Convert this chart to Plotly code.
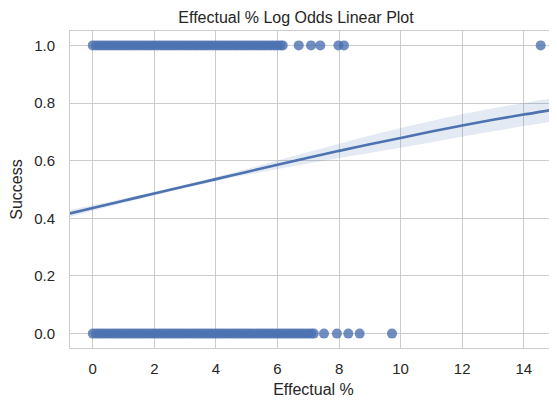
import plotly.graph_objects as go

# ---- data ----
# Success = 1 row: dense cluster then isolated points
success_x = [0.0, 0.1, 0.2, 0.3, 0.4, 0.5, 0.6, 0.7, 0.8, 0.9, 1.0, 1.1, 1.2, 1.3, 1.4, 1.5,
             1.6, 1.7, 1.8, 1.9, 2.0, 2.1, 2.2, 2.3, 2.4, 2.5, 2.6, 2.7, 2.8, 2.9, 3.0, 3.1,
             3.2, 3.3, 3.4, 3.5, 3.6, 3.7, 3.8, 3.9, 4.0, 4.1, 4.2, 4.3, 4.4, 4.5, 4.6, 4.7,
             4.8, 4.9, 5.0, 5.1, 5.2, 5.3, 5.4, 5.5, 5.6, 5.7, 5.8, 5.9, 6.0, 6.1, 6.17,
             6.69, 7.09, 7.39, 7.98, 8.16, 14.55]
success_y = [1.0] * len(success_x)

# Success = 0 row
fail_x = [0.0, 0.1, 0.2, 0.3, 0.4, 0.5, 0.6, 0.7, 0.8, 0.9, 1.0, 1.1, 1.2, 1.3, 1.4, 1.5,
          1.6, 1.7, 1.8, 1.9, 2.0, 2.1, 2.2, 2.3, 2.4, 2.5, 2.6, 2.7, 2.8, 2.9, 3.0, 3.1,
          3.2, 3.3, 3.4, 3.5, 3.6, 3.7, 3.8, 3.9, 4.0, 4.1, 4.2, 4.3, 4.4, 4.5, 4.6, 4.7,
          4.8, 4.9, 5.0, 5.1, 5.2, 5.3, 5.4, 5.5, 5.6, 5.7, 5.8, 5.9, 6.0, 6.1, 6.2, 6.3,
          6.4, 6.5, 6.6, 6.7, 6.8, 6.9, 7.0, 7.1, 7.18,
          7.51, 7.93, 8.3, 8.67, 9.72]
fail_y = [0.0] * len(fail_x)

# fitted logistic curve and its confidence band
curve_x = [-0.74, 0, 1, 2, 3, 4, 5, 6, 7, 8, 9, 10, 11, 12, 13, 14, 15, 15.08]
curve_y = [0.417, 0.436, 0.461, 0.486, 0.511, 0.536, 0.561, 0.586, 0.610, 0.634,
           0.657, 0.679, 0.701, 0.722, 0.742, 0.760, 0.778, 0.780]
band_lo = [0.405, 0.426, 0.453, 0.480, 0.505, 0.529, 0.551, 0.571, 0.590, 0.609,
           0.627, 0.645, 0.664, 0.683, 0.702, 0.720, 0.738, 0.740]
band_hi = [0.429, 0.446, 0.469, 0.492, 0.517, 0.543, 0.571, 0.601, 0.630, 0.659,
           0.687, 0.713, 0.738, 0.761, 0.782, 0.800, 0.818, 0.820]

x_ticks = [0, 2, 4, 6, 8, 10, 12, 14]
y_ticks = [0.0, 0.2, 0.4, 0.6, 0.8, 1.0]
y_tick_text = ["0.0", "0.2", "0.4", "0.6", "0.8", "1.0"]

BLUE = "#4C72B0"
TXT = "#262626"
GRID = "#cccccc"
FONT = "Liberation Sans, Arial, sans-serif"

# the page body has an 8px margin, so the figure is sized to fill the rest of the window
W, H = 549, 393

fig = go.Figure()
fig.add_trace(go.Scatter(x=success_x, y=success_y, mode="markers",
                         marker=dict(size=10, color=BLUE, opacity=0.8, line=dict(width=0)),
                         showlegend=False, hoverinfo="skip"))
fig.add_trace(go.Scatter(x=fail_x, y=fail_y, mode="markers",
                         marker=dict(size=10, color=BLUE, opacity=0.8, line=dict(width=0)),
                         showlegend=False, hoverinfo="skip"))
fig.add_trace(go.Scatter(x=curve_x, y=band_lo, mode="lines", line=dict(width=0, shape="spline"),
                         showlegend=False, hoverinfo="skip"))
fig.add_trace(go.Scatter(x=curve_x, y=band_hi, mode="lines", line=dict(width=0, shape="spline"),
                         fill="tonexty", fillcolor="rgba(76,114,176,0.15)",
                         showlegend=False, hoverinfo="skip"))
fig.add_trace(go.Scatter(x=curve_x, y=curve_y, mode="lines",
                         line=dict(color=BLUE, width=2.6, shape="spline"),
                         showlegend=False, hoverinfo="skip"))

fig.update_layout(
    width=W, height=H,
    margin=dict(l=62, r=0, t=23, b=53, autoexpand=False),
    paper_bgcolor="white", plot_bgcolor="white",
    font=dict(family=FONT, color=TXT),
    title=dict(text="Effectual % Log Odds Linear Plot", x=288 / W, xanchor="center",
               y=1 - 9 / H, yanchor="middle", yref="container",
               font=dict(size=16, color=TXT, family=FONT)),
    xaxis=dict(range=[-0.74, 15.08], tickvals=x_ticks, showgrid=True, gridcolor=GRID,
               gridwidth=1, zeroline=False, showline=True, linecolor=GRID, linewidth=1,
               mirror=True, ticks="", tickfont=dict(size=15, color=TXT), automargin=False,
               ticklabelstandoff=7,
               title=dict(text="Effectual %", font=dict(size=16, color=TXT), standoff=7)),
    yaxis=dict(range=[-0.05, 1.05], tickvals=y_ticks, ticktext=y_tick_text, showgrid=True,
               gridcolor=GRID, gridwidth=1, zeroline=False, showline=True, linecolor=GRID,
               linewidth=1, ticks="", tickfont=dict(size=15, color=TXT), automargin=False,
               ticklabelstandoff=11,
               title=dict(text="Success", font=dict(size=16, color=TXT), standoff=8)),
)

fig.write_html("out.html")
